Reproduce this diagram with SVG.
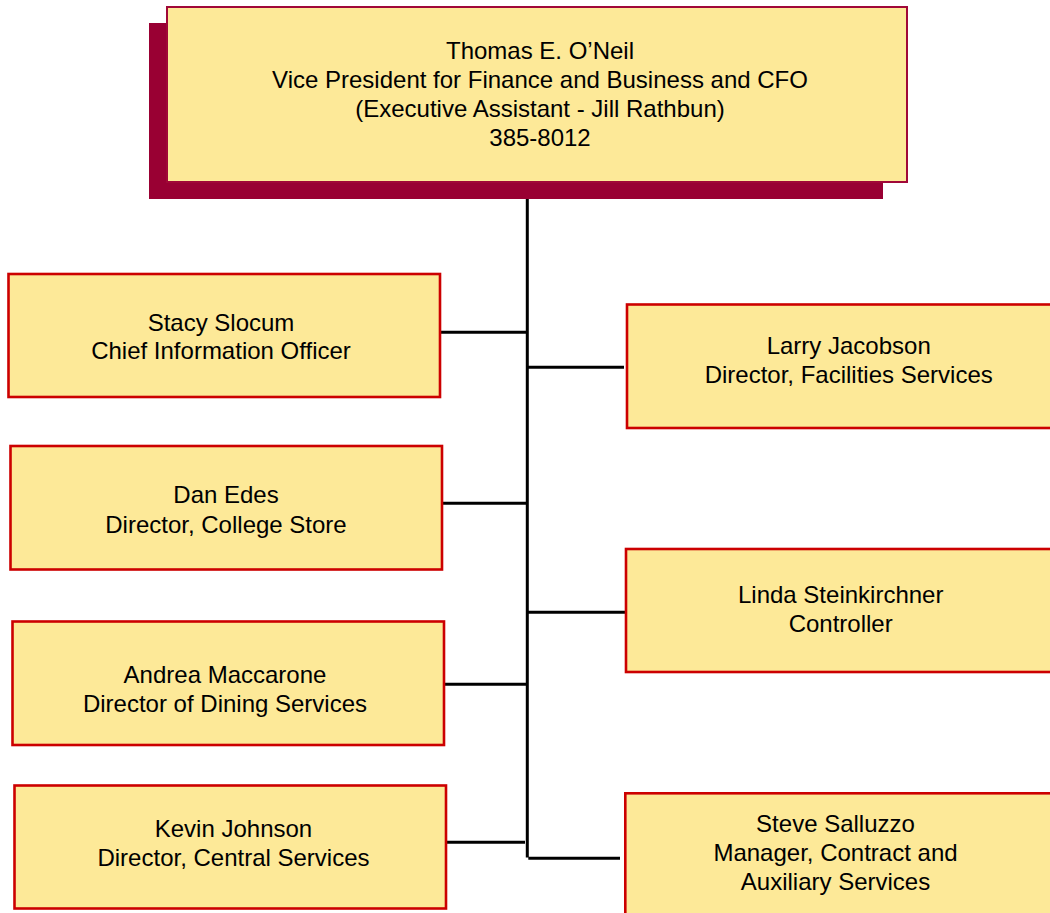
<svg xmlns="http://www.w3.org/2000/svg" width="1050" height="913" viewBox="0 0 1050 913">
<style>
.box{fill:#FDE998;stroke:#CC0000;stroke-width:2.6}
.top{fill:#FDE998;stroke:#A00838;stroke-width:2}
.shadow{fill:#990033}
text{font-family:"Liberation Sans",Arial,sans-serif;font-size:24px;fill:#000;text-anchor:middle}
.conn line{stroke:#000;stroke-width:3}
</style>
<rect width="1050" height="913" fill="#fff"/>
<g id="connectors" class="conn">
<line x1="527.3" y1="198" x2="527.3" y2="857.5"/>
<line x1="441" y1="332.3" x2="527.3" y2="332.3"/>
<line x1="443" y1="503.3" x2="527.3" y2="503.3"/>
<line x1="445" y1="684.3" x2="527.3" y2="684.3"/>
<line x1="447" y1="842.3" x2="525" y2="842.3"/>
<line x1="527.3" y1="367.3" x2="624" y2="367.3"/>
<line x1="527.3" y1="612.3" x2="625" y2="612.3"/>
<line x1="528.3" y1="858.3" x2="620" y2="858.3"/>
</g>
<g id="node-oneil">
<rect class="shadow" x="149" y="23" width="734" height="176"/>
<rect class="top" x="167" y="7" width="740" height="175"/>
<text x="540" y="59.3">Thomas E. O’Neil</text>
<text x="540" y="87.7">Vice President for Finance and Business and CFO</text>
<text x="540" y="116.7">(Executive Assistant - Jill Rathbun)</text>
<text x="540" y="145.7">385-8012</text>
</g>
<g id="node-slocum">
<rect class="box" x="8.5" y="274" width="431.5" height="123"/>
<text x="221" y="330.7">Stacy Slocum</text>
<text x="221" y="359.3">Chief Information Officer</text>
</g>
<g id="node-edes">
<rect class="box" x="10.5" y="446" width="431.5" height="123.5"/>
<text x="226" y="503.3">Dan Edes</text>
<text x="226" y="532.7">Director, College Store</text>
</g>
<g id="node-maccarone">
<rect class="box" x="12.5" y="621.5" width="431.5" height="123.5"/>
<text x="225" y="683">Andrea Maccarone</text>
<text x="225" y="712">Director of Dining Services</text>
</g>
<g id="node-johnson">
<rect class="box" x="14.5" y="785.5" width="431.5" height="123"/>
<text x="233.5" y="836.7">Kevin Johnson</text>
<text x="233.5" y="865.7">Director, Central Services</text>
</g>
<g id="node-jacobson">
<rect class="box" x="627" y="304.5" width="440" height="123.5"/>
<text x="848.7" y="354.3">Larry Jacobson</text>
<text x="848.7" y="382.7">Director, Facilities Services</text>
</g>
<g id="node-steinkirchner">
<rect class="box" x="626" y="549" width="440" height="123"/>
<text x="840.7" y="603.3">Linda Steinkirchner</text>
<text x="840.7" y="631.7">Controller</text>
</g>
<g id="node-salluzzo">
<rect class="box" x="625.3" y="793.3" width="440" height="140"/>
<text x="835.5" y="832.3">Steve Salluzzo</text>
<text x="835.5" y="861">Manager, Contract and</text>
<text x="835.5" y="890">Auxiliary Services</text>
</g>
</svg>
